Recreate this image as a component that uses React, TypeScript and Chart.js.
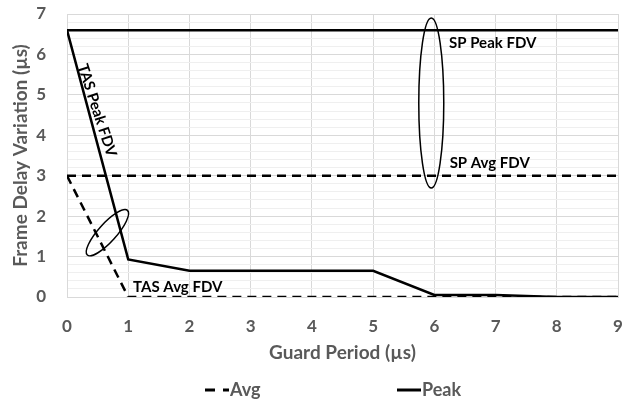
import React, { useEffect, useRef } from 'react';
import { Chart, registerables } from 'chart.js';
Chart.register(...registerables);

// ---- data ----
const guardPeriods = [0, 1, 2, 3, 4, 5, 6, 7, 8, 9];
const spPeak = [6.6, 6.6, 6.6, 6.6, 6.6, 6.6, 6.6, 6.6, 6.6, 6.6];
const spAvg = [3.0, 3.0, 3.0, 3.0, 3.0, 3.0, 3.0, 3.0, 3.0, 3.0];
const tasPeak = [6.6, 0.93, 0.65, 0.65, 0.65, 0.65, 0.05, 0.05, 0.0, 0.0];
const tasAvg = [3.0, 0.0, 0.0, 0.0, 0.0, 0.0, 0.0, 0.0, 0.0, 0.0];
const legendNames = ['Avg', 'Peak'];
const xTitle = 'Guard Period (µs)';
const yTitle = 'Frame Delay Variation (µs)';

// annotation texts (anchored in data coordinates)
const noteTexts = ['SP Peak FDV', 'SP Avg FDV', 'TAS Avg FDV', 'TAS Peak FDV'];
const noteX = [6.24, 6.25, 1.08, 0.49];
const noteY = [6.28, 3.32, 0.25, 4.62];
const noteAngle = [0, 0, 0, 72];
const noteAlign: CanvasTextAlign[] = ['left', 'left', 'left', 'center'];
// ellipses (centres in data coordinates)
const ellipseX = [5.95, 0.66];
const ellipseY = [4.8, 1.59];
const ellipseRx = [12.5, 30];
const ellipseRy = [85, 9];
const ellipseRot = [0, -48];

const FONT = 'Lato, "Open Sans", sans-serif';
const GRAY = '#595959';

const toPoints = (ys: number[]) => guardPeriods.map((x, i) => ({ x, y: ys[i] }));

const annotationPlugin = {
  id: 'annotations',
  afterDatasetsDraw(chart: any) {
    const { ctx, scales } = chart;
    const xs = scales.x;
    const ys = scales.y;
    ctx.save();
    ctx.fillStyle = '#000';
    ctx.font = `bold 15px ${FONT}`;
    ctx.textBaseline = 'middle';
    noteTexts.forEach((t, i) => {
      const px = xs.getPixelForValue(noteX[i]);
      const py = ys.getPixelForValue(noteY[i]);
      ctx.save();
      ctx.translate(px, py);
      ctx.rotate((noteAngle[i] * Math.PI) / 180);
      ctx.textAlign = noteAlign[i];
      ctx.fillText(t, 0, 0);
      ctx.restore();
    });
    ctx.strokeStyle = '#000';
    ctx.lineWidth = 1.5;
    ellipseX.forEach((ex, i) => {
      const px = xs.getPixelForValue(ex);
      const py = ys.getPixelForValue(ellipseY[i]);
      ctx.beginPath();
      ctx.ellipse(px, py, ellipseRx[i], ellipseRy[i], (ellipseRot[i] * Math.PI) / 180, 0, Math.PI * 2);
      ctx.stroke();
    });
    ctx.restore();
  },
};

const legendPlugin = {
  id: 'customLegend',
  afterDraw(chart: any) {
    const { ctx } = chart;
    const y = 390;
    const starts = [205, 397];
    const dashes = [[10, 8], []];
    ctx.save();
    ctx.font = `bold 18px ${FONT}`;
    ctx.fillStyle = GRAY;
    ctx.textBaseline = 'middle';
    ctx.textAlign = 'left';
    legendNames.forEach((name, i) => {
      const sx = starts[i];
      ctx.strokeStyle = '#000';
      ctx.lineWidth = 3;
      ctx.setLineDash(dashes[i]);
      ctx.beginPath();
      ctx.moveTo(sx, y);
      ctx.lineTo(sx + 24, y);
      ctx.stroke();
      ctx.setLineDash([]);
      ctx.fillText(name, sx + 25, y);
    });
    ctx.restore();
  },
};

export default function App() {
  const ref = useRef<HTMLCanvasElement>(null);
  useEffect(() => {
    document.body.style.margin = '0';
    if (!ref.current) return;
    const isInt = (v: number) => Math.abs(v - Math.round(v)) < 1e-6;
    const chart = new Chart(ref.current, {
      type: 'line',
      data: {
        datasets: [
          { label: 'SP Peak', data: toPoints(spPeak), borderColor: '#000', borderWidth: 2.5, pointRadius: 0, order: 1 },
          { label: 'TAS Peak', data: toPoints(tasPeak), borderColor: '#000', borderWidth: 2.5, pointRadius: 0, order: 2 },
          { label: 'SP Avg', data: toPoints(spAvg), borderColor: '#000', borderWidth: 2.5, borderDash: [9, 6], pointRadius: 0, order: 3 },
          { label: 'TAS Avg', data: toPoints(tasAvg), borderColor: '#000', borderWidth: 2.5, borderDash: [9, 6], pointRadius: 0, order: 4 },
        ],
      },
      options: {
        responsive: false,
        animation: false,
        layout: { padding: { left: 0, right: 15, top: 14, bottom: 36 } },
        plugins: { legend: { display: false }, tooltip: { enabled: false } },
        scales: {
          x: {
            type: 'linear',
            min: 0,
            max: 9,
            ticks: { stepSize: 1, padding: 0, color: GRAY, font: { family: FONT, size: 17, weight: 'bold' } },
            grid: { color: '#d9d9d9', drawTicks: true, tickLength: 19, tickColor: 'rgba(0,0,0,0)' },
            border: { color: '#d9d9d9' },
            title: { display: true, text: xTitle, color: GRAY, font: { family: FONT, size: 19, weight: 'bold' }, padding: { top: 0, bottom: 3 } },
            afterFit: (s: any) => { s.height = 70; },
          },
          y: {
            min: 0,
            max: 7,
            ticks: {
              stepSize: 0.2,
              autoSkip: false,
              padding: 0,
              color: GRAY,
              font: { family: FONT, size: 17, weight: 'bold' },
              callback: (v: any) => (isInt(Number(v)) ? String(Math.round(Number(v))) : ''),
            },
            grid: {
              drawTicks: true,
              tickLength: 21,
              tickColor: 'rgba(0,0,0,0)',
              color: (c: any) => (c.tick && isInt(c.tick.value) ? '#d9d9d9' : '#efefef'),
            },
            border: { color: '#d9d9d9' },
            title: { display: true, text: yTitle, color: GRAY, font: { family: FONT, size: 19, weight: 'bold' }, padding: { top: 9, bottom: 0 } },
            afterFit: (s: any) => { s.width = 67; },
          },
        },
      },
      plugins: [annotationPlugin, legendPlugin],
    });
    return () => chart.destroy();
  }, []);
  return (
    <div style={{ width: 633, height: 403 }}>
      <canvas ref={ref} width={633} height={403} style={{ display: 'block' }} />
    </div>
  );
}
